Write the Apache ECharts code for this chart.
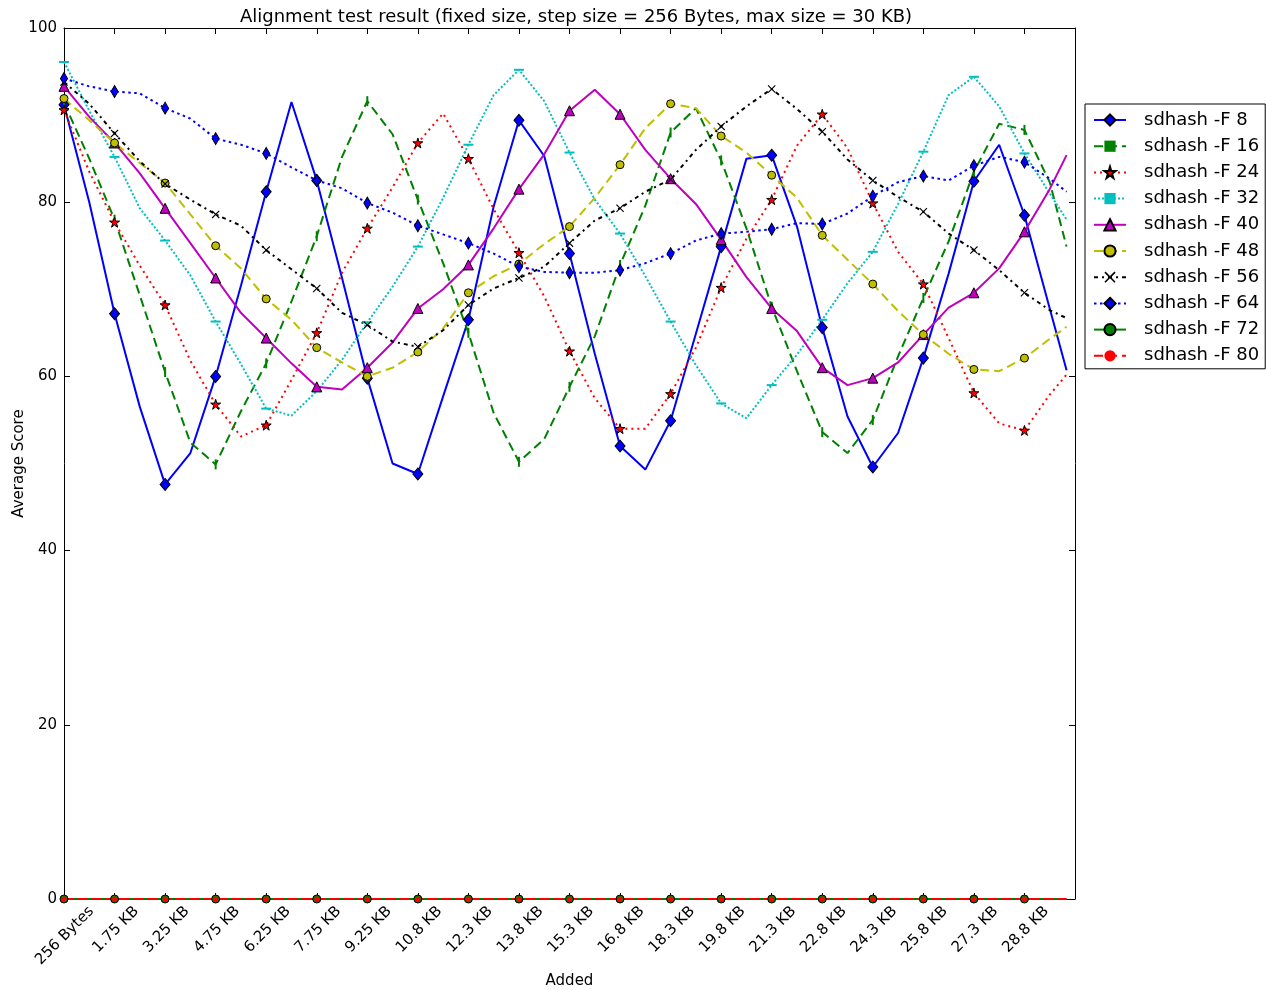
<!DOCTYPE html>
<html><head><meta charset="utf-8">
<script src="https://cdn.jsdelivr.net/npm/echarts@6/dist/echarts.min.js"></script>
<style>html,body{margin:0;padding:0;background:#fff}#c{width:1266px;height:990px}</style>
</head><body><div id="c"></div>
<script>
// x tick labels (one every 6 steps of 256 Bytes)
const xTickLabels = ['256 Bytes','1.75 KB','3.25 KB','4.75 KB','6.25 KB','7.75 KB','9.25 KB','10.8 KB','12.3 KB','13.8 KB','15.3 KB','16.8 KB','18.3 KB','19.8 KB','21.3 KB','22.8 KB','24.3 KB','25.8 KB','27.3 KB','28.8 KB'];
// sampled step indices (0 = 256 Bytes, 119 = 30 KB)
const sampleIdx = [0,3,6,9,12,15,18,21,24,27,30,33,36,39,42,45,48,51,54,57,60,63,66,69,72,75,78,81,84,87,90,93,96,99,102,105,108,111,114,117,119];

const f8  = [91.2,80.0,67.2,56.5,47.6,51.2,60.0,70.4,81.2,91.5,82.5,71.3,59.8,50.0,48.8,57.7,66.5,79.5,89.4,85.3,74.1,62.6,52.0,49.3,54.9,64.9,74.9,85.0,85.4,77.2,65.6,55.4,49.6,53.5,62.1,71.8,82.4,86.6,78.5,67.8,60.7];
const f16 = [91.4,85.0,78.0,69.3,60.5,52.4,49.9,56.0,61.5,68.6,76.1,85.2,91.6,87.8,80.3,73.0,65.0,55.8,50.2,52.8,58.8,64.6,72.8,79.6,88.0,90.8,84.8,77.0,68.0,60.6,53.6,51.2,55.0,62.3,69.0,75.5,83.5,89.0,88.3,82.3,74.9];
const f24 = [90.6,83.5,77.7,72.7,68.2,61.8,56.8,53.1,54.4,59.6,65.0,71.9,77.0,81.7,86.8,90.2,85.0,79.2,74.2,69.2,62.9,57.5,54.0,54.0,58.0,63.3,70.2,75.8,80.3,86.5,90.1,86.2,79.9,74.3,70.6,64.4,58.1,54.6,53.8,57.9,60.2];
const f32 = [96.1,90.5,85.2,79.3,75.6,71.6,66.3,61.4,56.3,55.5,58.3,61.9,66.2,70.3,74.9,80.5,86.6,92.3,95.2,91.6,85.7,80.3,76.4,71.5,66.3,61.3,56.9,55.2,59.0,62.5,66.5,70.7,74.3,79.8,85.8,92.3,94.4,91.0,85.6,81.0,78.0];
const f40 = [93.3,89.8,86.8,83.3,79.3,75.3,71.3,67.3,64.4,61.5,58.8,58.5,61.0,63.9,67.8,70.0,72.8,77.0,81.5,85.5,90.5,92.9,90.1,86.0,82.7,79.8,75.7,71.4,67.8,65.2,61.0,59.0,59.8,61.6,64.8,67.9,69.6,72.4,76.6,81.5,85.4];
const f48 = [91.9,89.4,86.8,84.5,82.2,78.6,75.0,72.4,68.9,66.5,63.3,61.6,60.0,61.0,62.8,65.5,69.6,71.5,72.9,75.2,77.2,80.5,84.3,88.5,91.3,90.8,87.6,85.7,83.1,80.5,76.2,73.4,70.6,67.5,64.8,62.6,60.8,60.6,62.1,64.3,65.7];
const f56 = [93.8,91.3,87.9,84.7,82.1,80.3,78.6,77.3,74.5,72.3,70.1,67.3,65.9,64.0,63.4,65.3,68.2,70.1,71.3,72.6,75.3,77.9,79.3,81.2,82.6,86.0,88.7,91.0,93.0,90.7,88.1,84.9,82.5,80.6,78.9,76.4,74.5,72.2,69.6,67.6,66.7];
const f64 = [94.2,93.3,92.7,92.5,90.8,89.6,87.3,86.6,85.6,84.0,82.5,81.6,79.9,78.8,77.3,76.3,75.3,74.1,72.6,72.0,71.9,71.9,72.2,73.0,74.1,75.6,76.4,76.6,76.9,77.6,77.5,78.7,80.7,82.3,83.0,82.5,84.2,85.2,84.6,82.7,81.2];
const f72 = [0,0,0,0,0,0,0,0,0,0,0,0,0,0,0,0,0,0,0,0,0,0,0,0,0,0,0,0,0,0,0,0,0,0,0,0,0,0,0,0,0];
const f80 = [0,0,0,0,0,0,0,0,0,0,0,0,0,0,0,0,0,0,0,0,0,0,0,0,0,0,0,0,0,0,0,0,0,0,0,0,0,0,0,0,0];

const seriesNames = ['sdhash -F 8','sdhash -F 16','sdhash -F 24','sdhash -F 32','sdhash -F 40','sdhash -F 48','sdhash -F 56','sdhash -F 64','sdhash -F 72','sdhash -F 80'];
const seriesValues = [f8,f16,f24,f32,f40,f48,f56,f64,f72,f80];

const STAR = 'path://M50,0 L61,35 L98,35 L68,57 L79,91 L50,70 L21,91 L32,57 L2,35 L39,35 Z';
const XMARK = 'path://M0,1 L1,0 L5,4 L9,0 L10,1 L6,5 L10,9 L9,10 L5,6 L1,10 L0,9 L4,5 Z';
const VBAR = 'path://M0,0 L2,0 L2,10 L0,10 Z';
const HBAR = 'path://M0,0 L10,0 L10,2 L0,2 Z';

const styles = [
  {color:'#0000ff', type:'solid', symbol:'diamond', size:[10,12], border:'#000'},
  {color:'#008000', type:[9,5], symbol:VBAR, size:10, border:null, keep:true},
  {color:'#ff0000', type:[2,4], symbol:STAR, size:10, border:'#000'},
  {color:'#00bfbf', type:[2,2], symbol:HBAR, size:10, border:null, keep:true},
  {color:'#bf00bf', type:'solid', symbol:'triangle', size:10, border:'#000'},
  {color:'#bfbf00', type:[9,5], symbol:'circle', size:8, border:'#000'},
  {color:'#000000', type:[4,4,2,4], symbol:XMARK, size:8, border:null},
  {color:'#0000ff', type:[2.5,3.5], symbol:'diamond', size:[7,12], border:'#000'},
  {color:'#008000', type:'solid', symbol:'circle', size:8, border:'#000'},
  {color:'#ff0000', type:[9,5], symbol:'circle', size:5, border:null}
];

const series = seriesNames.map((name, k) => {
  const st = styles[k];
  return {
    name: name,
    type: 'line',
    xAxisIndex: 0, yAxisIndex: 0,
    data: sampleIdx.map((ix, j) => [ix, seriesValues[k][j]]),
    showSymbol: true,
    symbol: st.symbol,
    symbolKeepAspect: !!st.keep,
    symbolSize: function (val) { return (val[0] % 6 === 0) ? st.size : 0; },
    lineStyle: {color: st.color, width: 2, type: st.type},
    itemStyle: {color: st.color, borderColor: st.border || st.color, borderWidth: st.border ? 1 : 0},
    smooth: false,
    animation: false,
    emphasis: {disabled: true}
  };
});

const chart = echarts.init(document.getElementById('c'), null, {renderer: 'canvas'});
const FONT = 'DejaVu Sans';
const frameAxis = {
  axisLine: {show: true, onZero: false, lineStyle: {color: '#000', width: 1}},
  axisTick: {show: true, inside: true, length: 6, lineStyle: {color: '#000'}},
  splitLine: {show: false}
};
const GL = 64, GR = 191;
function gridAt(shift) {
  return {left: GL + shift, right: GR - shift, top: 28, bottom: 91, containLabel: false, outerBoundsMode: 'none'};
}
// rotated labels are centred under their tick in the reference: label-only axes in grids shifted by half the rotated label width
const KB_SHIFT = 22, LONG_SHIFT = 27.5;
function labelAxis(gridIndex, fmt) {
  return {type: 'value', gridIndex: gridIndex, min: 0, max: 120, interval: 6, position: 'bottom',
    axisLine: {show: false, onZero: false}, axisTick: {show: false}, splitLine: {show: false},
    axisLabel: {rotate: 45, fontFamily: FONT, fontSize: 15, color: '#000', margin: 10, formatter: fmt}};
}
chart.setOption({
  backgroundColor: '#ffffff',
  animation: false,
  textStyle: {fontFamily: FONT},
  title: {
    text: 'Alignment test result (fixed size, step size = 256 Bytes, max size = 30 KB)',
    left: 571, top: 3, textAlign: 'center',
    textStyle: {fontFamily: FONT, fontSize: 18, fontWeight: 'normal', color: '#000'}
  },
  legend: {
    orient: 'vertical',
    left: 1085, top: 104,
    padding: [7, 6, 4, 8],
    itemWidth: 32, itemHeight: 14, itemGap: 8.2,
    borderColor: '#000', borderWidth: 1, backgroundColor: '#fff',
    textStyle: {fontFamily: FONT, fontSize: 18, color: '#000', lineHeight: 14, padding: [0, 0, 0, 13]},
    data: seriesNames
  },
  grid: [gridAt(0), gridAt(KB_SHIFT), gridAt(LONG_SHIFT)],
  xAxis: [
    Object.assign({type: 'value', gridIndex: 0, min: 0, max: 120, interval: 6, position: 'bottom',
     name: 'Added', nameLocation: 'middle', nameGap: 75, nameMoveOverlap: false,
     nameTextStyle: {fontFamily: FONT, fontSize: 15, color: '#000'},
     axisLabel: {show: false}}, frameAxis),
    Object.assign({type: 'value', gridIndex: 0, min: 0, max: 120, interval: 6, position: 'top',
     axisLabel: {show: false}}, frameAxis),
    labelAxis(1, function (v) { const k = Math.round(v / 6); return (k >= 1 && k < xTickLabels.length) ? xTickLabels[k] : ''; }),
    labelAxis(2, function (v) { return v === 0 ? xTickLabels[0] : ''; })
  ],
  yAxis: [
    Object.assign({type: 'value', gridIndex: 0, min: 0, max: 100, interval: 20, position: 'left',
     name: 'Average Score', nameLocation: 'middle', nameGap: 37, nameMoveOverlap: false,
     nameTextStyle: {fontFamily: FONT, fontSize: 15, color: '#000'},
     axisLabel: {fontFamily: FONT, fontSize: 15, color: '#000', margin: 7}}, frameAxis),
    Object.assign({type: 'value', gridIndex: 0, min: 0, max: 100, interval: 20, position: 'right',
     axisLabel: {show: false}}, frameAxis),
    {type: 'value', gridIndex: 1, min: 0, max: 100, show: false},
    {type: 'value', gridIndex: 2, min: 0, max: 100, show: false}
  ],
  series: series
});
</script>
</body></html>
